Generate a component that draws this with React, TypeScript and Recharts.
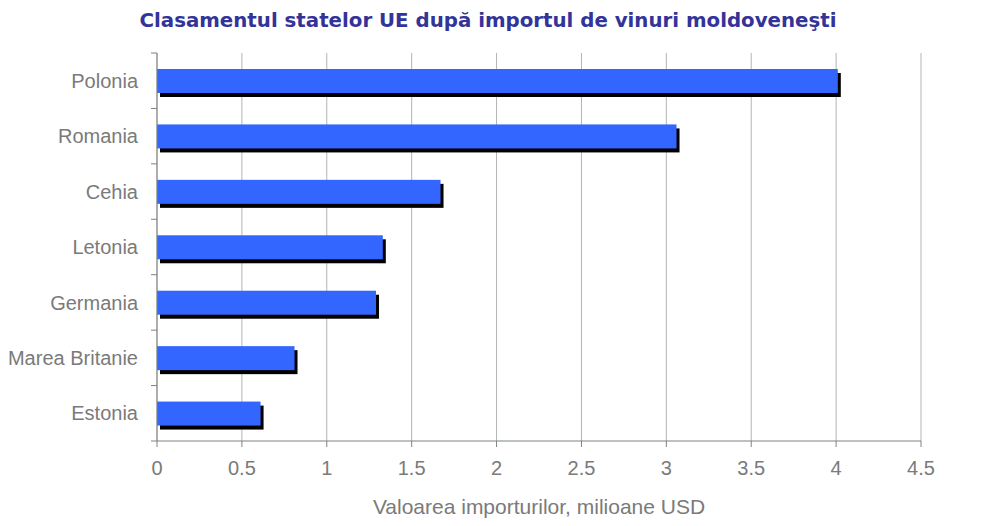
import { Bar, BarChart, CartesianGrid, XAxis, YAxis } from "recharts";

const countries = ["Polonia", "Romania", "Cehia", "Letonia", "Germania", "Marea Britanie", "Estonia"];
const importValues = [4.01, 3.06, 1.67, 1.33, 1.29, 0.81, 0.61];
const xTicks = [0, 0.5, 1, 1.5, 2, 2.5, 3, 3.5, 4, 4.5];

const chartData = countries.map((country, i) => ({ country, value: importValues[i] }));

const textFont = "'Liberation Sans', Arial, sans-serif";
const grayText = "#7a7a7a";
const axisColor = "#7b857b";
const labelGap = 19;
const tickLen = 6;

// blue bar with a black drop shadow offset down-right
function ShadowBar(props: any): JSX.Element {
  const { x, y, width, height } = props;
  return (
    <g>
      <rect x={x + 3} y={y + 4} width={width} height={height} fill="#000000" />
      <rect x={x} y={y} width={width} height={height} fill="#3366ff" />
    </g>
  );
}

// category label plus tick marks on the band edges (not the band centre)
function CategoryTick(props: any): JSX.Element {
  const { x, y, payload, index, visibleTicksCount } = props;
  const half = payload?.offset ?? 27.7;
  const axisX = x + labelGap;
  const isLast = index === visibleTicksCount - 1;
  return (
    <g>
      <line x1={axisX - tickLen} x2={axisX} y1={y - half} y2={y - half} stroke={axisColor} />
      {isLast && <line x1={axisX - tickLen} x2={axisX} y1={y + half} y2={y + half} stroke={axisColor} />}
      <text x={x} y={y} dy="0.355em" textAnchor="end" fontSize={20} fill={grayText} fontFamily={textFont}>
        {payload.value}
      </text>
    </g>
  );
}

function App(): JSX.Element {
  return (
    <div style={{ position: "absolute", left: 0, top: 0, width: 1001, height: 526, background: "#ffffff" }}>
      <div
        style={{
          position: "absolute",
          left: 0,
          top: 9,
          width: 976,
          textAlign: "center",
          fontFamily: "'DejaVu Sans', Verdana, sans-serif",
          fontWeight: "bold",
          fontSize: 19.8,
          color: "#333399",
        }}
      >
        Clasamentul statelor UE după importul de vinuri moldoveneşti
      </div>
      <BarChart
        width={1001}
        height={526}
        data={chartData}
        layout="vertical"
        margin={{ top: 53, right: 80, left: 0, bottom: 50 }}
        barSize={24}
      >
        <CartesianGrid horizontal={false} stroke="#b4b4b4" />
        <XAxis
          type="number"
          domain={[0, 4.5]}
          ticks={xTicks}
          height={35}
          stroke={axisColor}
          tickSize={tickLen}
          tickMargin={14}
          tick={{ fontSize: 20, fill: grayText, fontFamily: textFont }}
          label={{
            value: "Valoarea importurilor, milioane USD",
            position: "insideBottom",
            offset: -38,
            fontSize: 21,
            fill: grayText,
            fontFamily: textFont,
          }}
        />
        <YAxis
          type="category"
          dataKey="country"
          width={157}
          stroke={axisColor}
          tickLine={false}
          tickSize={0}
          tickMargin={labelGap}
          tick={CategoryTick}
        />
        <Bar dataKey="value" shape={ShadowBar} isAnimationActive={false} />
      </BarChart>
    </div>
  );
}

export default App;
